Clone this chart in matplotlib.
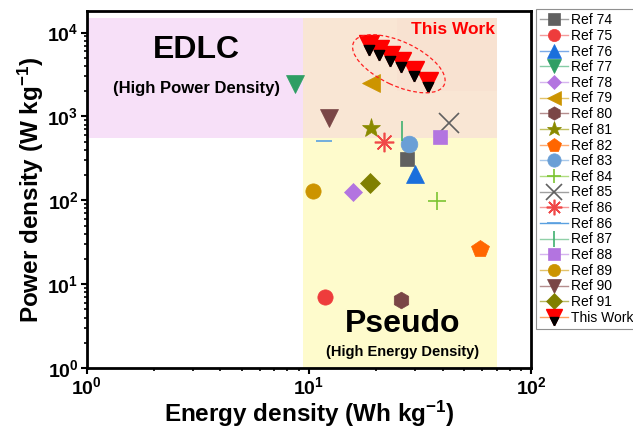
import matplotlib
matplotlib.use("Agg")
import matplotlib.pyplot as plt
from matplotlib.patches import Rectangle, Ellipse
from matplotlib.transforms import ScaledTranslation
from matplotlib.legend_handler import HandlerTuple

plt.rcParams['font.family'] = ['Liberation Sans', 'DejaVu Sans']
plt.rcParams['font.weight'] = 'bold'
plt.rcParams['mathtext.fontset'] = 'custom'
plt.rcParams['mathtext.rm'] = 'Liberation Sans:bold'
plt.rcParams['mathtext.bf'] = 'Liberation Sans:bold'
plt.rcParams['mathtext.it'] = 'Liberation Sans:bold'
plt.rcParams['mathtext.default'] = 'bf'

# reference data (energy density Wh/kg, power density W/kg)
ref_labels = ["Ref 74", "Ref 75", "Ref 76", "Ref 77", "Ref 78", "Ref 79", "Ref 80",
              "Ref 81", "Ref 82", "Ref 83", "Ref 84", "Ref 85", "Ref 86", "Ref 86",
              "Ref 87", "Ref 88", "Ref 89", "Ref 90", "Ref 91"]
ref_energy = [27.6, 11.8, 30.0, 8.7, 15.8, 19.0, 26.0, 19.0, 59.0, 28.2,
              37.7, 42.7, 21.8, 11.7, 26.2, 39.0, 10.4, 12.3, 18.8]
ref_power = [310, 7.1, 205, 2450, 125, 2500, 6.5, 730, 26, 470,
             97, 840, 495, 510, 670, 570, 128, 960, 160]

this_energy = [18.6, 20.7, 23.2, 26.0, 29.7, 34.4]
this_power = [7200, 6250, 5300, 4500, 3500, 2550]

# style per reference: marker, face colour, line colour, size
styles = [
    ('s', '#606060', '#a0a0a0', 10),
    ('o', '#ee3c3c', '#f59a9a', 11),
    ('^', '#1a6fdc', '#7aaae8', 13),
    ('v', '#2e9e64', '#86cca6', 13),
    ('D', '#b374e0', '#d6b4ef', 9),
    ('<', '#cc9400', '#e2c26a', 13),
    ('h', '#7a4646', '#b58e8e', 12),
    ('*', '#8a8a00', '#c0c060', 14),
    ('p', '#ff6600', '#ffaa70', 13),
    ('o', '#6a9fd6', '#a8c8ea', 12),
    ('+', '#7cc432', '#b0dc80', 13),
    ('x', '#606060', '#a0a0a0', 14),
    ((8, 2, 0), '#f04848', '#f59a9a', 14),
    ('_', '#5aa0e0', '#5aa0e0', 12),
    ('|', '#40b070', '#90d0a8', 14),
    ('s', '#b374e0', '#d6b4ef', 10),
    ('o', '#cc9400', '#e2c26a', 11),
    ('v', '#7a4646', '#b58e8e', 13),
    ('D', '#808000', '#b8b860', 10),
]

fig = plt.figure(figsize=(6.33, 4.29), dpi=100)
ax = fig.add_axes([0.137, 0.142, 0.702, 0.832])
ax.set_xscale('log')
ax.set_yscale('log')
ax.set_xlim(1, 100)
ax.set_ylim(1, 1.8e4)

# shaded regions
ax.add_patch(Rectangle((1, 560), 9.4 - 1, 15000 - 560, facecolor='#f7e0f8',
                       edgecolor='none', zorder=0))
ax.add_patch(Rectangle((9.4, 1), 70 - 9.4, 15000 - 1, facecolor='#fefbcc',
                       edgecolor='none', zorder=0))
ax.add_patch(Rectangle((9.4, 560), 70 - 9.4, 15000 - 560, facecolor='#f9e6d4',
                       edgecolor='none', zorder=0))
ax.add_patch(Rectangle((25, 2000), 70 - 25, 15000 - 2000, facecolor='#f8d8cc',
                       edgecolor='none', alpha=0.25, zorder=0))

handles = []
for lab, x, y, st in zip(ref_labels, ref_energy, ref_power, styles):
    m, fc, lc, ms = st
    thin = m in ('+', 'x', '_', '|') or isinstance(m, tuple)
    h, = ax.plot([x], [y], linestyle='-', color=lc, lw=1,
                 marker=m, markersize=ms, markerfacecolor=fc,
                 markeredgecolor=fc, markeredgewidth=1.2 if thin else 0.5,
                 label=lab, zorder=3)
    handles.append(h)

# this work: red triangle with black tip
tip = [(0, -1), (-0.5, 0), (0.5, 0), (0, -1)]
h1, = ax.plot(this_energy, this_power, linestyle='none', marker='v', markersize=15,
              markerfacecolor='#ff0000', markeredgecolor='#ff0000', zorder=4)
h2, = ax.plot(this_energy, this_power, linestyle='none', marker=tip, markersize=15,
              markerfacecolor='black', markeredgecolor='black', zorder=5)
hl, = ax.plot([], [], color='#ffa060', lw=1)
handles.append((hl, h1, h2))

# ellipse around this work
ell = Ellipse((0, 0), 1.0, 0.44, angle=-25, fill=False, edgecolor='#ff2020',
              linestyle=(0, (3, 2)), lw=0.9,
              transform=fig.dpi_scale_trans + ScaledTranslation(25.4, 4250, ax.transData),
              zorder=6)
ax.add_patch(ell)

ax.text(3.13, 6150, "EDLC", fontsize=23, fontweight='bold', ha='center', va='center')
ax.text(3.13, 2150, "(High Power Density)", fontsize=12, fontweight='bold',
        ha='center', va='center')
ax.text(26.5, 3.4, "Pseudo", fontsize=23, fontweight='bold', ha='center', va='center')
ax.text(26.5, 1.55, "(High Energy Density)", fontsize=10.5, fontweight='bold',
        ha='center', va='center')
ax.text(69, 10800, "This Work", fontsize=12.5, fontweight='bold', color='#ff0000',
        ha='right', va='center')

ax.set_xlabel("Energy density (Wh kg$^{-1}$)", fontsize=17.5, fontweight='bold', labelpad=0)
ax.set_ylabel("Power density (W kg$^{-1}$)", fontsize=17.5, fontweight='bold', labelpad=1)
ax.tick_params(axis='both', which='major', labelsize=14, length=4, width=1.5,
               direction='out', pad=2)
ax.tick_params(axis='both', which='minor', length=2.5, width=1.2, direction='out')
for sp in ax.spines.values():
    sp.set_linewidth(2)

leg = fig.legend(handles, ref_labels + ["This Work"], loc='upper left',
                 bbox_to_anchor=(536 / 633, 1 - 9 / 429), markerscale=0.8,
                 frameon=True, fancybox=False, edgecolor='#909090', framealpha=1,
                 handlelength=2.0, handletextpad=0.25, borderpad=0.3,
                 labelspacing=0.12, borderaxespad=0,
                 handler_map={tuple: HandlerTuple(ndivide=1, pad=0)},
                 prop={'weight': 'normal', 'size': 10})
leg.get_frame().set_linewidth(0.8)

fig.savefig("out.png", dpi=100)
